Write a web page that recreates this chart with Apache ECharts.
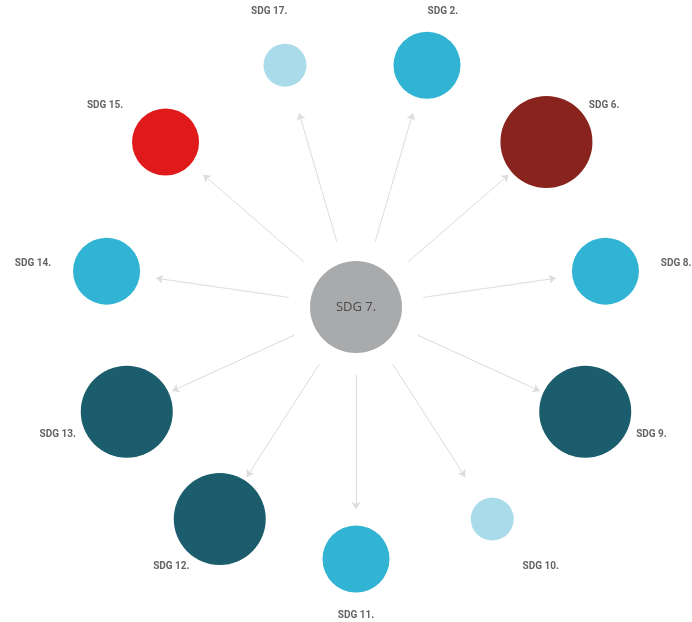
<!DOCTYPE html>
<html>
<head>
<meta charset="utf-8">
<script src="https://cdn.jsdelivr.net/npm/echarts@6/dist/echarts.min.js"></script>
<style>
html,body{margin:0;padding:0;background:#fff;}
#chart{width:692px;height:622px;}
</style>
</head>
<body>
<div id="chart"></div>
<script>
// ---- data ----
const centerName = 'SDG 7.';
const categories = ['SDG 2.', 'SDG 6.', 'SDG 8.', 'SDG 9.', 'SDG 10.', 'SDG 11.', 'SDG 12.', 'SDG 13.', 'SDG 14.', 'SDG 15.', 'SDG 17.'];
// relative circle size level (1 small, 2 medium, 3 large)
const sizeLevel = [2, 3, 2, 3, 1, 2, 3, 3, 2, 2, 1];
// colour group of each node
const colourGroup = ['blue', 'darkred', 'blue', 'teal', 'light', 'blue', 'teal', 'teal', 'blue', 'red', 'light'];

// ---- styling ----
const palette = { light: '#a9dbeb', blue: '#31b3d3', teal: '#1b5d6d', darkred: '#88231d', red: '#e01a1a', center: '#a9aaac' };
const diameterByLevel = { 1: 43, 2: 67, 3: 92 };
const R = 252;            // ring radius (axis units = px)
const arrowStart = 68;    // distance from centre where arrows start
const arrowEndGap = 50;   // distance from target centre where arrows end
const labelR = 308;       // ring on which the inner edge of each label sits

const n = categories.length;
const step = 2 * Math.PI / n;
const angleOf = i => Math.PI / 2 - step / 2 - i * step;

const nodeData = categories.map((name, i) => {
  const a = angleOf(i);
  return {
    name: name,
    value: [R * Math.cos(a), R * Math.sin(a)],
    symbolSize: diameterByLevel[sizeLevel[i]],
    itemStyle: { color: palette[colourGroup[i]], opacity: 1 }
  };
});
nodeData.push({
  name: centerName,
  value: [0, 0],
  symbolSize: 92,
  itemStyle: { color: palette.center, opacity: 1 },
  label: { show: true, position: 'inside', formatter: '{b}', color: '#4b4b4b', fontSize: 13, fontFamily: 'Open Sans', fontWeight: 'normal' }
});

const labelData = categories.map((name, i) => {
  const a = angleOf(i);
  const c = Math.cos(a);
  const pos = Math.abs(c) < 0.3 ? 'inside' : (c > 0 ? 'right' : 'left');
  return { name: name, value: [labelR * c, labelR * Math.sin(a)], label: { position: pos, distance: 0 } };
});

const arrowData = categories.map((name, i) => {
  const a = angleOf(i);
  const e = R - arrowEndGap;
  return { coords: [[arrowStart * Math.cos(a), arrowStart * Math.sin(a)], [e * Math.cos(a), e * Math.sin(a)]] };
});

const chart = echarts.init(document.getElementById('chart'), null, { renderer: 'canvas' });
chart.setOption({
  animation: false,
  backgroundColor: '#ffffff',
  grid: { left: 0, right: 0, top: 0, bottom: 0 },
  xAxis: { type: 'value', min: -356, max: 336, show: false },
  yAxis: { type: 'value', min: -315, max: 307, show: false },
  series: [
    {
      type: 'lines',
      coordinateSystem: 'cartesian2d',
      silent: true,
      symbol: ['none', 'arrow'],
      symbolSize: 7,
      lineStyle: { color: '#dcdcdc', width: 1, opacity: 1 },
      data: arrowData,
      z: 1
    },
    {
      type: 'scatter',
      silent: true,
      data: nodeData,
      label: { show: false },
      itemStyle: { opacity: 1 },
      z: 2
    },
    {
      type: 'scatter',
      silent: true,
      symbolSize: 0,
      data: labelData,
      label: {
        show: true,
        formatter: '{b}',
        color: '#3c3c3c',
        fontSize: 10,
        fontWeight: 'bold',
        fontFamily: 'Roboto'
      },
      z: 3
    }
  ]
});
</script>
</body>
</html>
